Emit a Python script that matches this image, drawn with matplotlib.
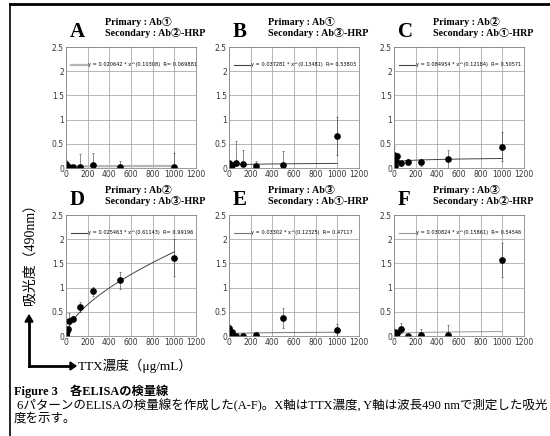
import matplotlib
matplotlib.use("Agg")
import matplotlib.pyplot as plt
from matplotlib.lines import Line2D
import numpy as np

# fonts: serif for latin, CJK fallback
SERIF = ["Liberation Serif", "Noto Sans CJK JP"]
plt.rcParams["font.family"] = ["DejaVu Sans", "Noto Sans CJK JP"]

# data
conc = [0, 1.95, 3.9, 7.8, 15.6, 31.25, 62.5, 125, 250, 500, 1000]
panels = ["A", "B", "C", "D", "E", "F"]
primary = ["①", "①", "②", "②", "③", "③"]
secondary = ["②", "③", "①", "③", "①", "②"]

abs_A = [0.03, 0.08, 0.05, 0.02, 0.03, 0.03, 0.03, 0.03, 0.07, 0.02, 0.02]
abs_B = [0.10, 0.05, 0.03, 0.04, 0.05, 0.06, 0.10, 0.08, 0.04, 0.07, 0.66]
abs_C = [0.02, 0.25, 0.27, 0.05, 0.15, 0.25, 0.10, 0.13, 0.12, 0.18, 0.44]
abs_D = [0.00, 0.02, 0.05, 0.10, 0.15, 0.30, 0.35, 0.60, 0.92, 1.15, 1.62]
abs_E = [0.02, 0.17, 0.05, 0.03, 0.07, 0.08, 0.01, 0.01, 0.03, 0.37, 0.12]
abs_F = [0.02, 0.07, 0.05, 0.08, 0.05, 0.06, 0.15, 0.00, 0.02, 0.03, 1.57]

# error bars (lower, upper)
err_A = ([0, 0, 0, 0, 0, 0, 0, 0, 0, 0, 0],
         [0.12, 0.08, 0, 0, 0, 0, 0, 0.25, 0.23, 0.13, 0.30])
err_B = ([0, 0, 0, 0, 0, 0, 0, 0, 0, 0, 0.39],
         [0.02, 0, 0, 0, 0, 0, 0.45, 0.30, 0.11, 0.28, 0.39])
err_C = ([0, 0, 0, 0, 0, 0, 0, 0.06, 0.07, 0.18, 0.30],
         [0.20, 0.20, 0.15, 0, 0, 0, 0.05, 0.06, 0.07, 0.19, 0.30])
err_D = ([0, 0, 0, 0, 0, 0, 0, 0.1, 0.1, 0.17, 0.38],
         [0, 0, 0, 0, 0, 0.18, 0.07, 0.1, 0.1, 0.17, 0.38])
err_E = ([0, 0.05, 0, 0, 0, 0, 0, 0, 0, 0.21, 0.13],
         [0.08, 0.08, 0, 0, 0, 0, 0, 0, 0, 0.21, 0.13])
err_F = ([0, 0, 0, 0, 0, 0, 0.08, 0, 0, 0, 0.35],
         [0, 0, 0, 0, 0, 0, 0.12, 0, 0.13, 0.19, 0.35])

# fitted power curves y = a * x^b, R
fit_a = [0.020642, 0.037281, 0.084954, 0.025463, 0.03302, 0.030824]
fit_b = [0.10308, 0.13481, 0.12184, 0.61143, 0.12325, 0.15861]
fit_r = ["0.069881", "0.53803", "0.50571", "0.99196", "0.47117", "0.54546"]
fit_color = ["#b5b5b5", "#444444", "#444444", "#444444", "#777777", "#999999"]

values = [abs_A, abs_B, abs_C, abs_D, abs_E, abs_F]
errors = [err_A, err_B, err_C, err_D, err_E, err_F]

W, H = 550, 436
fig = plt.figure(figsize=(5.5, 4.36), dpi=100)

col_left = [66, 229, 394]
row_top = [47, 215]
ax_w, ax_h = 130, 121

for i, name in enumerate(panels):
    r, c = divmod(i, 3)
    x0 = col_left[c]
    y0 = row_top[r]
    ax = fig.add_axes([x0 / W, 1 - (y0 + ax_h) / H, ax_w / W, ax_h / H])
    xs = np.linspace(0, 1000, 300)
    ax.plot(xs, fit_a[i] * xs ** fit_b[i], color=fit_color[i],
            lw=1.6 if i == 0 else 0.7,
            label="y = %s * x^(%s)  R= %s" % (fit_a[i], fit_b[i], fit_r[i]))
    ax.errorbar(conc, values[i], yerr=errors[i], fmt="o", color="black",
                ms=3.8, elinewidth=0.4, capsize=1, capthick=0.4, ecolor="#333333")
    ax.set_xlim(0, 1200)
    ax.set_ylim(0, 2.5)
    ax.set_xticks(range(0, 1201, 200))
    ax.set_yticks([0, 0.5, 1, 1.5, 2, 2.5])
    ax.set_yticklabels(["0", "0.5", "1", "1.5", "2", "2.5"])
    ax.grid(True, color="#9a9a9a", lw=0.5)
    ax.set_axisbelow(True)
    ax.tick_params(length=0, pad=1.5, labelsize=5.5, colors="#333333")
    for s in ax.spines.values():
        s.set_color("#888888")
        s.set_linewidth(0.6)
    leg = ax.legend(loc="upper left", bbox_to_anchor=(0.02, 0.89),
                    frameon=False, fontsize=3.6, handlelength=3.2,
                    handletextpad=0.2, borderaxespad=0)
    for h in leg.legend_handles:
        h.set_linewidth(0.8 if i else 1.6)

    # panel letter and antibody labels
    fig.text((x0 + 4) / W, 1 - (y0 - 15) / H, name, fontsize=15,
             fontweight="bold", family=SERIF, ha="left", va="center")
    fig.text((x0 + 39) / W, 1 - (y0 - 25) / H, "Primary : Ab" + primary[i],
             fontsize=7.2, fontweight="bold", family=SERIF, va="center")
    fig.text((x0 + 39) / W, 1 - (y0 - 14) / H,
             "Secondary : Ab" + secondary[i] + "-HRP",
             fontsize=7.2, fontweight="bold", family=SERIF, va="center")

# frame (left and top only)
fig.add_artist(Line2D([10 / W, 10 / W], [0, 1 - 4 / H], color="black", lw=1.2))
fig.add_artist(Line2D([10 / W, 1], [1 - 4 / H, 1 - 4 / H], color="black", lw=2))

# axis guide arrows
ax_y, ax_x = 29 / W, 1 - 366 / H
fig.add_artist(Line2D([ax_y, 70 / W], [ax_x, ax_x], color="black", lw=2))
fig.add_artist(Line2D([ax_y, ax_y], [ax_x, 1 - 322 / H], color="black", lw=2))
fig.patches.append(plt.Polygon([[70 / W, 1 - 362 / H], [70 / W, 1 - 370 / H],
                                [76 / W, ax_x]], closed=True, color="black",
                               transform=fig.transFigure, figure=fig))
fig.patches.append(plt.Polygon([[25 / W, 1 - 322 / H], [33 / W, 1 - 322 / H],
                                [ax_y, 1 - 315 / H]], closed=True, color="black",
                               transform=fig.transFigure, figure=fig))
fig.text(78 / W, ax_x, "TTX濃度（μg/mL）", fontsize=9.5, family=SERIF,
         va="center", ha="left")
fig.text(30 / W, 1 - 251 / H, "吸光度（490nm）", fontsize=10, family=SERIF,
         rotation=90, va="center", ha="center")

# caption
fig.text(14 / W, 1 - 391 / H, "Figure 3　各ELISAの検量線", fontsize=8.8,
         fontweight="bold", family=SERIF, va="center")
fig.text(14 / W, 1 - 405 / H,
         " 6パターンのELISAの検量線を作成した(A-F)。X軸はTTX濃度, Y軸は波長490 nmで測定した吸光",
         fontsize=9, family=SERIF, va="center")
fig.text(14 / W, 1 - 419 / H, "度を示す。", fontsize=9, family=SERIF,
         va="center")

fig.savefig("out.png", dpi=100)
